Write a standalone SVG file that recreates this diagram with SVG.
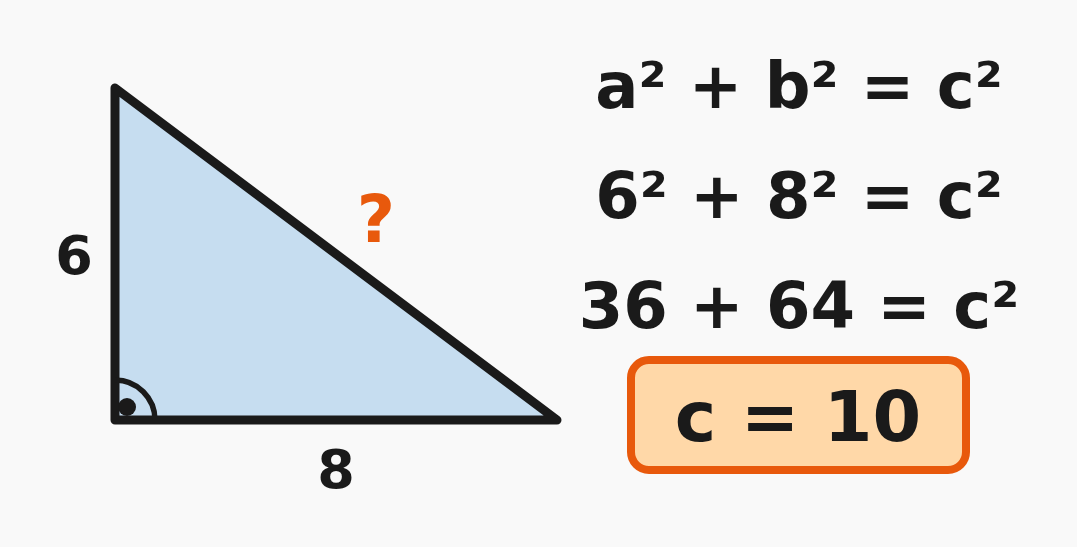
<svg xmlns="http://www.w3.org/2000/svg" width="1077" height="547" viewBox="0 0 1077 547">
<style>
text{font-family:"DejaVu Sans",sans-serif;font-weight:bold;fill:#1a1a1a;text-anchor:middle}
.eq{font-size:64px}
</style>
<rect width="1077" height="547" fill="#f9f9f9"/>
<g id="triangle">
<polygon points="115,88 115,420 557,420" fill="#c6ddf0" stroke="#1a1a1a" stroke-width="9" stroke-linejoin="round"/>
<path d="M115,380 A40,40 0 0 1 155,420" fill="none" stroke="#1a1a1a" stroke-width="5.5"/>
<circle cx="127" cy="407" r="9" fill="#1a1a1a"/>
</g>
<g id="labels">
<text x="74" y="274" font-size="54">6</text>
<text x="336" y="488" font-size="54">8</text>
<text x="376" y="242" font-size="66" style="fill:#e8590c">?</text>
</g>
<g id="equations">
<text class="eq" x="799" y="108">a² + b² = c²</text>
<text class="eq" x="799" y="218">6² + 8² = c²</text>
<text class="eq" x="799" y="328">36 + 64 = c²</text>
</g>
<g id="result">
<rect x="631" y="360" width="335" height="110" rx="18" fill="#ffd8a8" stroke="#e8590c" stroke-width="8"/>
<text x="798" y="441" font-size="70">c = 10</text>
</g>
</svg>
